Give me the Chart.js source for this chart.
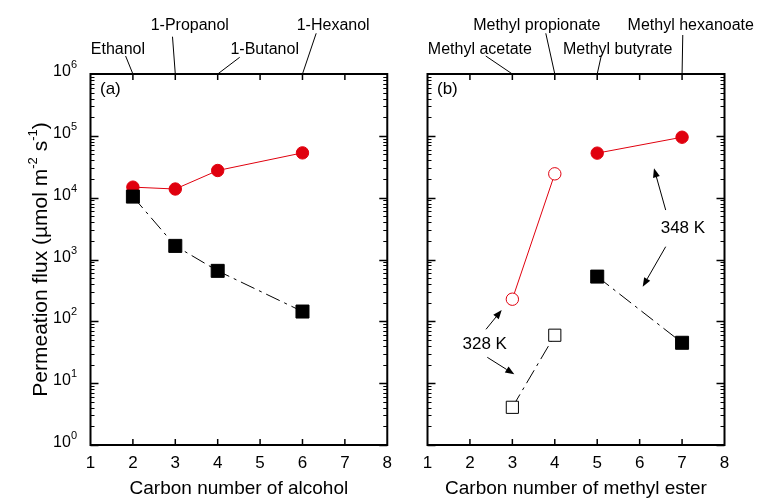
<!DOCTYPE html>
<html>
<head>
<meta charset="utf-8">
<script src="https://cdn.jsdelivr.net/npm/chart.js@4.4.1/dist/chart.umd.min.js"></script>
<style>
  body { margin: 0; background: #fff; }
  #wrap { position: relative; width: 760px; height: 501px; }
  canvas { position: absolute; top: 0; }
</style>
</head>
<body>
<div id="wrap">
  <canvas id="alcoholChart" width="400" height="501" style="left:0"></canvas>
  <canvas id="esterChart" width="360" height="501" style="left:400px"></canvas>
</div>
<script>
// axis ticks
const xTicks = [1, 2, 3, 4, 5, 6, 7, 8];
const yDecades = [0, 1, 2, 3, 4, 5, 6];

// (a) alcohols
const alcoholCarbon = [2, 3, 4, 6];
const alcoholNames = ['Ethanol', '1-Propanol', '1-Butanol', '1-Hexanol'];
const alcoholRed = [14800, 13800, 27500, 53000];
const alcoholBlack = [10400, 1660, 655, 144];

// (b) methyl esters
const esterCarbon = [3, 4, 5, 7];
const esterNames = ['Methyl acetate', 'Methyl propionate', 'Methyl butyrate', 'Methyl hexanoate'];
const ester328Carbon = [3, 4];
const ester328Red = [228, 24300];
const ester328Black = [4.07, 59.6];
const ester348Carbon = [5, 7];
const ester348Red = [52500, 95000];
const ester348Black = [529, 45];

const RED = '#e0000e';
const FONT = '"Liberation Sans", Arial, sans-serif';
const dashDot = [15, 5, 3, 5];

const pts = (xs, ys) => xs.map((x, i) => ({ x: x, y: ys[i] }));

function line(ctx, x1, y1, x2, y2) {
    ctx.beginPath();
    ctx.moveTo(x1, y1);
    ctx.lineTo(x2, y2);
    ctx.stroke();
}

// frame, inward ticks, top labels, annotations
const panelDecor = {
    id: 'panelDecor',
    beforeDatasetsDraw(chart, args, o) {
        const { ctx, chartArea: a, scales: { x, y } } = chart;
        ctx.save();
        ctx.strokeStyle = '#000';
        ctx.lineWidth = 1.5;
        xTicks.slice(1, -1).forEach(v => {
            const px = x.getPixelForValue(v);
            line(ctx, px, a.bottom, px, a.bottom - 6);
            line(ctx, px, a.top, px, a.top + 6);
        });
        for (let d = 0; d < 6; d++) {
            for (let m = 1; m < 10; m++) {
                const py = Math.round(y.getPixelForValue(m * Math.pow(10, d))) + 0.5;
                const len = m === 1 ? 8 : 4;
                ctx.lineWidth = m === 1 ? 1.5 : 1;
                line(ctx, a.left, py, a.left + len, py);
                line(ctx, a.right, py, a.right - len, py);
            }
        }
        ctx.lineWidth = 2;
        ctx.strokeRect(a.left, a.top, a.right - a.left, a.bottom - a.top);
        ctx.restore();
    },
    afterDraw(chart, args, o) {
        const { ctx, chartArea: a, scales: { x, y } } = chart;
        ctx.save();
        ctx.fillStyle = '#000';
        ctx.strokeStyle = '#000';
        ctx.lineWidth = 1;

        // compound names above the top axis
        ctx.font = '16px ' + FONT;
        ctx.textAlign = 'center';
        ctx.textBaseline = 'alphabetic';
        o.names.forEach((name, i) => {
            const px = x.getPixelForValue(o.carbon[i]);
            const L = o.layout[i];
            ctx.fillText(name, px + L.dx, L.upper ? 30 : 54);
            line(ctx, px + L.lx, L.ly, px, a.top);
        });

        // panel label
        ctx.font = '17px ' + FONT;
        ctx.textAlign = 'left';
        ctx.fillText(o.label, a.left + 9.5, a.top + 20);

        // y tick labels 10^n
        if (o.yLabels) {
            ctx.textAlign = 'left';
            yDecades.forEach(d => {
                const py = y.getPixelForValue(Math.pow(10, d));
                ctx.font = '11px ' + FONT;
                const ew = ctx.measureText(String(d)).width;
                const right = a.left - 13.5;
                ctx.fillText(String(d), right - ew, py - 6);
                ctx.font = '16px ' + FONT;
                const bw = ctx.measureText('10').width;
                ctx.fillText('10', right - ew - bw, py + 2);
            });

            // y title with superscripts
            const parts = [
                ['Permeation flux (\u00b5mol m', 0], ['-2', 1], [' s', 0], ['-1', 1], [')', 0]
            ];
            const big = '21px ' + FONT, small = '13px ' + FONT;
            let total = 0;
            parts.forEach(p => { ctx.font = p[1] ? small : big; total += ctx.measureText(p[0]).width; });
            ctx.translate(47, (a.top + a.bottom) / 2);
            ctx.rotate(-Math.PI / 2);
            let cx = -total / 2;
            parts.forEach(p => {
                ctx.font = p[1] ? small : big;
                ctx.fillText(p[0], cx, p[1] ? -10 : 0);
                cx += ctx.measureText(p[0]).width;
            });
            ctx.setTransform(1, 0, 0, 1, 0, 0);
        }

        // temperature notes and arrows
        ctx.font = '17px ' + FONT;
        ctx.textAlign = 'center';
        ctx.textBaseline = 'middle';
        (o.notes || []).forEach(n => {
            ctx.fillText(n.text, x.getPixelForValue(n.x), y.getPixelForValue(Math.pow(10, n.e)));
        });
        (o.arrows || []).forEach(ar => {
            const x1 = x.getPixelForValue(ar[0]), y1 = y.getPixelForValue(Math.pow(10, ar[1]));
            const x2 = x.getPixelForValue(ar[2]), y2 = y.getPixelForValue(Math.pow(10, ar[3]));
            const ang = Math.atan2(y2 - y1, x2 - x1);
            const hl = 9, hw = 3.5;
            const bx = x2 - hl * Math.cos(ang), by = y2 - hl * Math.sin(ang);
            line(ctx, x1, y1, bx, by);
            ctx.beginPath();
            ctx.moveTo(x2, y2);
            ctx.lineTo(bx + hw * Math.sin(ang), by - hw * Math.cos(ang));
            ctx.lineTo(bx - hw * Math.sin(ang), by + hw * Math.cos(ang));
            ctx.closePath();
            ctx.fill();
        });
        ctx.restore();
    }
};

function scalesFor(title) {
    return {
        x: {
            type: 'linear', min: 1, max: 8,
            grid: { display: false, drawTicks: false },
            border: { display: false },
            ticks: { stepSize: 1, color: '#000', padding: 8, font: { family: FONT, size: 17 } },
            title: { display: true, text: title, color: '#000', padding: { top: 0, bottom: 1 }, font: { family: FONT, size: 19 } },
            afterFit: s => { s.height = 56; }
        },
        y: { type: 'logarithmic', min: 1, max: 1000000, display: false }
    };
}

function blackSet(data, filled) {
    return {
        data: data, borderColor: '#000', borderWidth: 1, borderDash: dashDot,
        pointStyle: 'rect', pointRadius: filled ? 9.2 : 8.6, pointBorderWidth: 1,
        pointBorderColor: '#000', pointBackgroundColor: filled ? '#000' : '#fff'
    };
}

function redSet(data, filled) {
    return {
        data: data, borderColor: RED, borderWidth: 1,
        pointStyle: 'circle', pointRadius: 6.2, pointBorderWidth: 1,
        pointBorderColor: RED, pointBackgroundColor: filled ? RED : '#fff'
    };
}

const common = {
    responsive: false,
    animation: false,
    events: [],
    plugins: { legend: { display: false }, tooltip: { enabled: false } }
};

// panel (a)
new Chart(document.getElementById('alcoholChart'), {
    type: 'line',
    data: {
        datasets: [
            blackSet(pts(alcoholCarbon, alcoholBlack), true),
            redSet(pts(alcoholCarbon, alcoholRed), true)
        ]
    },
    options: {
        ...common,
        layout: { padding: { left: 90.5, right: 12, top: 74, bottom: 0 } },
        scales: scalesFor('Carbon number of alcohol'),
        plugins: {
            ...common.plugins,
            panelDecor: {
                label: '(a)', yLabels: true,
                names: alcoholNames, carbon: alcoholCarbon,
                layout: [
                    { dx: -15, upper: false, lx: -7.3, ly: 56 },
                    { dx: 14.5, upper: true, lx: -2.8, ly: 36.7 },
                    { dx: 47, upper: false, lx: 22, ly: 57.3 },
                    { dx: 30.7, upper: true, lx: 13.7, ly: 33.3 }
                ]
            }
        }
    },
    plugins: [panelDecor]
});

// panel (b)
new Chart(document.getElementById('esterChart'), {
    type: 'line',
    data: {
        datasets: [
            blackSet(pts(ester348Carbon, ester348Black), true),
            blackSet(pts(ester328Carbon, ester328Black), false),
            redSet(pts(ester348Carbon, ester348Red), true),
            redSet(pts(ester328Carbon, ester328Red), false)
        ]
    },
    options: {
        ...common,
        layout: { padding: { left: 27.5, right: 35.5, top: 74, bottom: 0 } },
        scales: scalesFor('Carbon number of methyl ester'),
        plugins: {
            ...common.plugins,
            panelDecor: {
                label: '(b)', yLabels: false,
                names: esterNames, carbon: esterCarbon,
                layout: [
                    { dx: -32.5, upper: false, lx: -26.6, ly: 56 },
                    { dx: -18, upper: true, lx: -9, ly: 33.3 },
                    { dx: 20.5, upper: false, lx: 4, ly: 56 },
                    { dx: 8.7, upper: true, lx: 0.7, ly: 35 }
                ],
                notes: [
                    { text: '348 K', x: 7.02, e: 3.505 },
                    { text: '328 K', x: 2.348, e: 1.625 }
                ],
                arrows: [
                    [6.614, 3.80, 6.338, 4.475],
                    [6.614, 3.207, 6.072, 2.56],
                    [2.379, 1.871, 2.749, 2.183],
                    [2.409, 1.418, 3.046, 1.143]
                ]
            }
        }
    },
    plugins: [panelDecor]
});
</script>
</body>
</html>
